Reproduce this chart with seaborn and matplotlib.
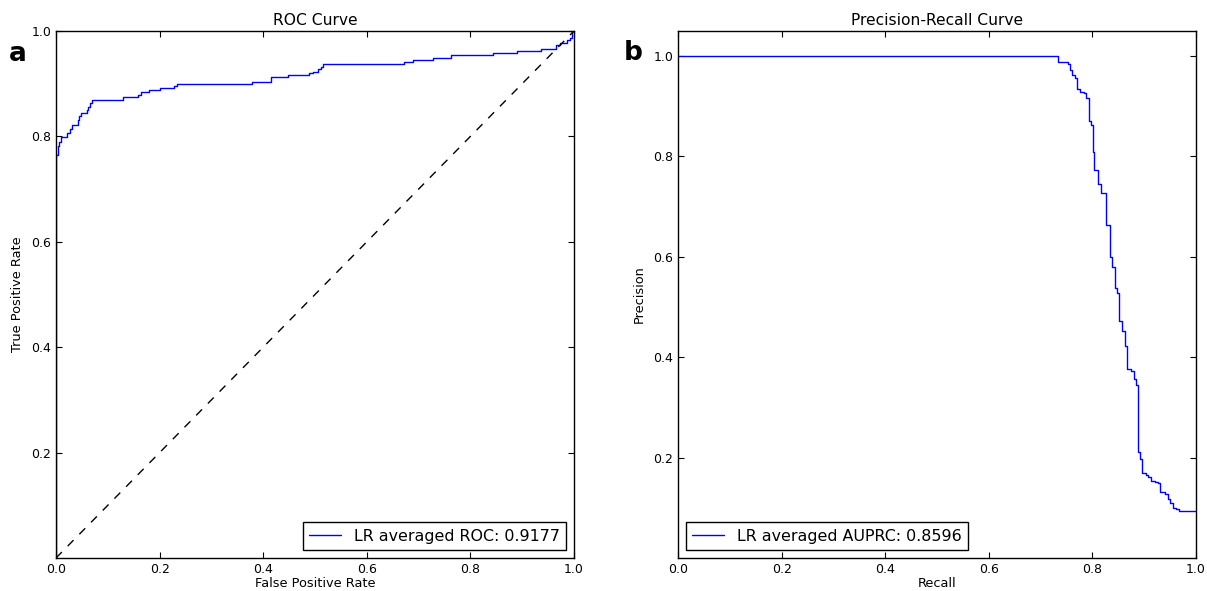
import matplotlib
matplotlib.use("Agg")
import matplotlib.pyplot as plt
import numpy as np
import pandas as pd
import seaborn as sns

# ROC curve corners: false positive rate where the true positive rate steps up
roc_fpr = [0.000, 0.000, 0.003, 0.006, 0.009, 0.021, 0.027, 0.030, 0.043, 0.045,
           0.048, 0.059, 0.062, 0.065, 0.070, 0.129, 0.159, 0.165, 0.180, 0.201,
           0.228, 0.233, 0.378, 0.416, 0.447, 0.489, 0.497, 0.505, 0.511, 0.516,
           0.672, 0.690, 0.728, 0.763, 0.843, 0.889, 0.936, 0.965, 0.973, 0.986,
           0.992, 0.996, 1.000]
roc_tpr = [0.000, 0.765, 0.781, 0.790, 0.798, 0.806, 0.814, 0.822, 0.831, 0.838,
           0.844, 0.850, 0.856, 0.864, 0.869, 0.874, 0.879, 0.884, 0.888, 0.891,
           0.896, 0.900, 0.904, 0.912, 0.917, 0.920, 0.923, 0.928, 0.932, 0.937,
           0.941, 0.945, 0.949, 0.954, 0.958, 0.962, 0.966, 0.973, 0.978, 0.982,
           0.986, 1.000, 1.000]

# Precision-recall corners: recall where the precision steps down
pr_recall = [0.000, 0.734, 0.753, 0.757, 0.760, 0.766, 0.771, 0.776, 0.784, 0.788,
             0.793, 0.797, 0.801, 0.804, 0.810, 0.817, 0.826, 0.834, 0.838, 0.843,
             0.848, 0.851, 0.858, 0.863, 0.867, 0.874, 0.881, 0.884, 0.888, 0.892,
             0.896, 0.903, 0.908, 0.913, 0.921, 0.927, 0.931, 0.940, 0.945, 0.950,
             0.956, 0.962, 0.968, 1.000]
pr_precision = [1.000, 0.988, 0.984, 0.972, 0.963, 0.957, 0.934, 0.929, 0.926, 0.916,
                0.871, 0.863, 0.809, 0.774, 0.745, 0.728, 0.663, 0.599, 0.580, 0.537,
                0.528, 0.473, 0.453, 0.422, 0.376, 0.373, 0.356, 0.345, 0.212, 0.197,
                0.170, 0.165, 0.161, 0.154, 0.152, 0.149, 0.132, 0.127, 0.117, 0.109,
                0.099, 0.097, 0.094, 0.094]

chance_x = [0.0, 1.0]
chance_y = [0.0, 1.0]

roc_label = "LR averaged ROC: 0.9177"
pr_label = "LR averaged AUPRC: 0.8596"
xticks = [0.0, 0.2, 0.4, 0.6, 0.8, 1.0]
yticks = [0.2, 0.4, 0.6, 0.8, 1.0]

sns.set_style("ticks", {
    "xtick.direction": "in",
    "ytick.direction": "in",
    "axes.edgecolor": "black",
    "text.color": "black",
    "axes.labelcolor": "black",
    "xtick.color": "black",
    "ytick.color": "black",
})
plt.rcParams["font.family"] = ["DejaVu Sans"]
plt.rcParams.update({
    "xtick.top": True,
    "ytick.right": True,
    "xtick.major.size": 4,
    "ytick.major.size": 4,
    "xtick.major.width": 0.8,
    "ytick.major.width": 0.8,
    "xtick.major.pad": 3.5,
    "ytick.major.pad": 3.5,
    "xtick.labelsize": 9,
    "ytick.labelsize": 9,
    "axes.linewidth": 1.0,
    "legend.fontsize": 11.4,
})

fig = plt.figure(figsize=(12.07, 5.91), dpi=100)
ax1 = fig.add_axes([56 / 1207, 33 / 591, 518 / 1207, 527 / 591])
ax2 = fig.add_axes([678 / 1207, 33 / 591, 518 / 1207, 527 / 591])

roc_df = pd.DataFrame({"fpr": roc_fpr, "tpr": roc_tpr})
pr_df = pd.DataFrame({"recall": pr_recall, "precision": pr_precision})

sns.lineplot(data=roc_df, x="fpr", y="tpr", ax=ax1, estimator=None, sort=False,
             drawstyle="steps-post", color="#0000ff", linewidth=1.0, label=roc_label)
ax1.plot(chance_x, chance_y, color="black", linestyle=(0, (6, 6)), linewidth=1.0)
ax1.set_xlim(0, 1)
ax1.set_ylim(0, 1)
ax1.set_xticks(xticks)
ax1.set_yticks(yticks)
ax1.set_xlabel("False Positive Rate", fontsize=9.3, labelpad=1)
ax1.set_ylabel("True Positive Rate", fontsize=9.3, labelpad=5)
ax1.set_title("ROC Curve", fontsize=11.2, pad=4)

sns.lineplot(data=pr_df, x="recall", y="precision", ax=ax2, estimator=None, sort=False,
             drawstyle="steps-post", color="#0000ff", linewidth=1.0, label=pr_label)
ax2.set_xlim(0, 1)
ax2.set_ylim(0, 1.05)
ax2.set_xticks(xticks)
ax2.set_yticks(yticks)
ax2.set_xlabel("Recall", fontsize=9.3, labelpad=1)
ax2.set_ylabel("Precision", fontsize=9.3, labelpad=5)
ax2.set_title("Precision-Recall Curve", fontsize=11.2, pad=4)

for ax, loc in ((ax1, "lower right"), (ax2, "lower left")):
    for side in ("top", "right", "bottom", "left"):
        ax.spines[side].set_visible(True)
        ax.spines[side].set_color("black")
    leg = ax.legend(loc=loc, fancybox=False, frameon=True, framealpha=1,
                    edgecolor="black", handlelength=2.0, borderpad=0.4,
                    borderaxespad=0.5)
    leg.get_frame().set_linewidth(1.0)

fig.text(9 / 1207, 1 - 61 / 591, "a", fontsize=19, fontweight="bold")
fig.text(624 / 1207, 1 - 60 / 591, "b", fontsize=19, fontweight="bold")

fig.savefig("out.png", dpi=100, facecolor="white")
